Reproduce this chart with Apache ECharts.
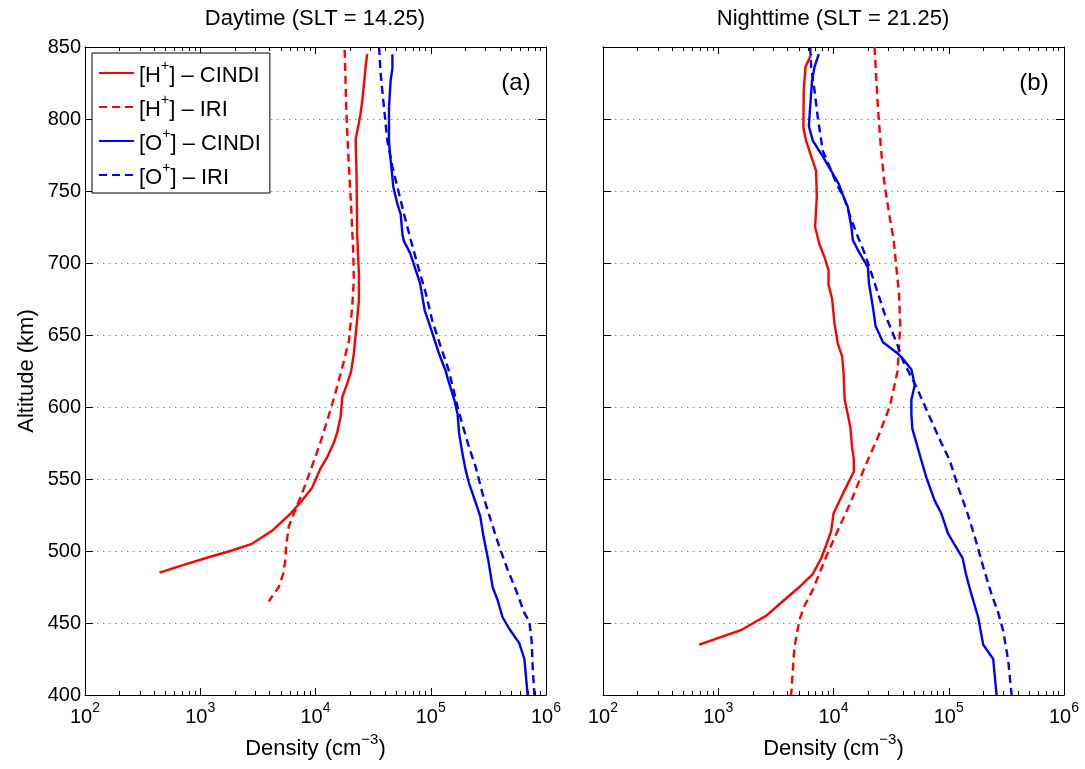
<!DOCTYPE html>
<html>
<head>
<meta charset="utf-8">
<script src="https://cdn.jsdelivr.net/npm/echarts@6/dist/echarts.min.js"></script>
<style>
  html, body { margin: 0; padding: 0; background: #fff; }
  #chart { width: 1085px; height: 769px; }
</style>
</head>
<body>
<div id="chart"></div>
<script>
// altitude (km) and density (cm^-3)

// (a) daytime
const dayHCindiAlt = [845, 836, 813, 801, 786, 762, 720, 693, 674, 656, 637, 625, 616, 607, 593, 582, 575, 565, 557, 544, 535, 526, 514, 505, 500, 496, 491, 485]
const dayHCindi = [28100, 27200, 25500, 24300, 22300, 22700, 23000, 23800, 23800, 22700, 21500, 20400, 18800, 17100, 16500, 15400, 14400, 12600, 11000, 9350, 7650, 6070, 4200, 2810, 1820, 1220, 766, 443]

const dayHIriAlt = [848, 801, 767, 739, 706, 688, 669, 646, 630, 614, 598, 575, 556, 540, 526, 517, 503, 494, 484, 475, 465]
const dayHIri = [17900, 18600, 19500, 20400, 21300, 21500, 20800, 19500, 17400, 15400, 13500, 11000, 9060, 7650, 6490, 5860, 5560, 5480, 5240, 4800, 3930]

const dayOCindiAlt = [845, 835, 827, 808, 785, 776, 767, 753, 741, 734, 720, 715, 707, 695, 686, 667, 658, 637, 625, 620, 605, 595, 582, 568, 556, 547, 535, 524, 510, 494, 475, 466, 454, 446, 436, 425, 413, 400]
const dayOCindi = [46500, 46500, 44900, 43400, 43400, 44300, 45500, 47300, 51300, 54800, 56800, 58600, 66100, 74100, 80700, 88700, 96800, 118000, 135000, 140000, 160000, 171000, 176000, 188000, 201000, 215000, 242000, 269000, 287000, 315000, 344000, 380000, 420000, 480000, 586000, 649000, 670000, 693000]

const dayOIriAlt = [850, 832, 808, 785, 767, 753, 734, 716, 695, 679, 660, 642, 625, 600, 588, 572, 558, 540, 521, 503, 487, 473, 457, 451, 438, 420, 400]
const dayOIri = [35600, 36700, 39300, 42000, 46500, 51300, 58600, 67000, 79300, 90600, 103000, 122000, 144000, 171000, 188000, 215000, 246000, 281000, 333000, 393000, 465000, 548000, 649000, 716000, 750000, 766000, 793000]

// (b) nighttime
const nightHCindiAlt = [845, 836, 820, 794, 785, 771, 764, 746, 725, 713, 704, 695, 685, 675, 658, 644, 635, 625, 619, 605, 595, 586, 572, 564, 555, 540, 526, 514, 504, 495, 484, 475, 463, 455, 445, 435]
const nightHCindi = [6400, 5710, 5520, 5480, 5780, 6610, 7060, 7160, 6930, 7550, 8360, 9060, 9060, 9730, 10200, 10900, 11900, 12200, 12300, 12500, 13300, 14000, 14500, 15000, 15000, 12100, 10000, 9550, 8630, 7820, 6610, 5060, 3390, 2600, 1570, 684]

const nightHIriAlt = [850, 808, 778, 755, 732, 716, 697, 679, 656, 642, 625, 600, 579, 558, 535, 517, 496, 473, 462, 452, 433, 400]
const nightHIri = [22700, 24300, 25900, 27700, 30700, 33300, 35100, 37000, 38000, 37000, 36000, 30700, 24300, 18600, 14300, 11300, 8630, 6610, 5600, 5060, 4580, 4290]

const nightOCindiAlt = [845, 836, 827, 808, 795, 785, 774, 764, 755, 744, 739, 725, 716, 707, 697, 686, 669, 656, 645, 637, 632, 626, 621, 615, 605, 595, 585, 575, 563, 551, 535, 526, 512, 504, 495, 484, 470, 454, 435, 425, 413, 400]
const nightOCindi = [7450, 6840, 6520, 6270, 6110, 6610, 8070, 9550, 11100, 12500, 13300, 14300, 14700, 16800, 19900, 20300, 22000, 23200, 26900, 36300, 41400, 47400, 49000, 50600, 47400, 47400, 48300, 52400, 57800, 64000, 75500, 86300, 98600, 113000, 132000, 141000, 157000, 180000, 199000, 243000, 251000, 260000]

const nightOIriAlt = [850, 836, 820, 801, 778, 767, 756, 744, 730, 718, 707, 693, 679, 665, 654, 642, 632, 614, 593, 575, 563, 544, 528, 510, 489, 470, 457, 445, 424, 400]
const nightOIri = [6270, 6400, 6840, 7310, 8070, 9230, 10500, 12500, 14300, 16300, 18600, 21300, 24300, 27700, 31700, 36300, 40100, 52400, 68400, 86300, 102000, 121000, 143000, 168000, 199000, 235000, 269000, 296000, 328000, 351000]

// axes
const altTicks = [400, 450, 500, 550, 600, 650, 700, 750, 800, 850]
const densityRange = [100, 1000000]
const minorTickValues = [
  200, 300, 400, 500, 600, 700, 800, 900,
  2000, 3000, 4000, 5000, 6000, 7000, 8000, 9000,
  20000, 30000, 40000, 50000, 60000, 70000, 80000, 90000,
  200000, 300000, 400000, 500000, 600000, 700000, 800000, 900000
]
const seriesNames = ['H+ CINDI', 'H+ IRI', 'O+ CINDI', 'O+ IRI']
const legendLabels = {
  'H+ CINDI': '{n|[H}{s|+}{n|] – CINDI}',
  'H+ IRI': '{n|[H}{s|+}{n|] – IRI}',
  'O+ CINDI': '{n|[O}{s|+}{n|] – CINDI}',
  'O+ IRI': '{n|[O}{s|+}{n|] – IRI}'
}

const FONT = 'Liberation Sans, Arial, Helvetica, sans-serif'
const RED = '#ff0000'
const BLUE = '#0000ff'

const supRich = (size, supSize) => ({
  n: { fontSize: size, fontFamily: FONT, color: '#000', lineHeight: size + 6, verticalAlign: 'bottom' },
  s: { fontSize: supSize, fontFamily: FONT, color: '#000', lineHeight: supSize, verticalAlign: 'top' }
})

const chart = echarts.init(document.getElementById('chart'))

const pairs = (den, alt) => den.map((d, i) => [d, alt[i]])

const line = (name, color, dashed, den, alt, xi, yi) => ({
  name: name,
  type: 'line',
  xAxisIndex: xi,
  yAxisIndex: yi,
  data: pairs(den, alt),
  symbol: 'none',
  showSymbol: false,
  animation: false,
  lineStyle: { color: color, width: 2.4, type: dashed ? [8, 5] : 'solid' },
  itemStyle: { color: color }
})

// one panel: major log axes top/bottom, minor tick axes top/bottom
const xAxesFor = (grid, withName) => [
  {
    gridIndex: grid, type: 'log', logBase: 10, min: densityRange[0], max: densityRange[1],
    position: 'bottom',
    axisLine: { lineStyle: { color: '#000', width: 1 } },
    axisTick: { inside: true, length: 7, lineStyle: { color: '#000' } },
    splitLine: { show: false },
    axisLabel: {
      margin: 6,
      formatter: v => '{n|10}{s|' + Math.round(Math.log10(v)) + '}',
      rich: supRich(20, 14)
    },
    name: withName ? '{n|Density (cm}{s|−3}{n|)}' : '',
    nameLocation: 'middle',
    nameGap: 36,
    nameTextStyle: { rich: supRich(22, 15) }
  },
  {
    gridIndex: grid, type: 'log', logBase: 10, min: densityRange[0], max: densityRange[1],
    position: 'top',
    axisLine: { lineStyle: { color: '#000', width: 1 } },
    axisTick: { inside: true, length: 7, lineStyle: { color: '#000' } },
    splitLine: { show: false },
    axisLabel: { show: false }
  },
  {
    gridIndex: grid, type: 'value', min: 2, max: 6, position: 'bottom',
    axisLine: { show: false },
    axisTick: { inside: true, length: 4, lineStyle: { color: '#000' }, customValues: minorTickValues.map(Math.log10) },
    axisLabel: { show: false },
    splitLine: { show: false }
  },
  {
    gridIndex: grid, type: 'value', min: 2, max: 6, position: 'top',
    axisLine: { show: false },
    axisTick: { inside: true, length: 4, lineStyle: { color: '#000' }, customValues: minorTickValues.map(Math.log10) },
    axisLabel: { show: false },
    splitLine: { show: false }
  }
]

const yAxesFor = (grid, withLabels) => [
  {
    gridIndex: grid, type: 'value', min: altTicks[0], max: altTicks[altTicks.length - 1], interval: 50,
    position: 'left',
    axisLine: { lineStyle: { color: '#000', width: 1 } },
    axisTick: { inside: true, length: 8, lineStyle: { color: '#000' } },
    axisLabel: { show: withLabels, margin: 4, fontSize: 20, fontFamily: FONT, color: '#000' },
    splitLine: { show: true, lineStyle: { type: [1.5, 4.5], color: '#8a8a8a', width: 1 } },
    name: withLabels ? 'Altitude (km)' : '',
    nameLocation: 'middle',
    nameGap: 47,
    nameTextStyle: { fontSize: 22, fontFamily: FONT, color: '#000' }
  },
  {
    gridIndex: grid, type: 'value', min: altTicks[0], max: altTicks[altTicks.length - 1], interval: 50,
    position: 'right',
    axisLine: { lineStyle: { color: '#000', width: 1 } },
    axisTick: { inside: true, length: 8, lineStyle: { color: '#000' } },
    axisLabel: { show: false },
    splitLine: { show: false }
  }
]

const option = {
  backgroundColor: '#fff',
  animation: false,
  title: [
    { text: 'Daytime (SLT = 14.25)', left: 315, top: 8, textAlign: 'center', padding: 0,
      textStyle: { fontSize: 22, fontWeight: 'normal', fontFamily: FONT, color: '#000' } },
    { text: 'Nighttime (SLT = 21.25)', left: 833, top: 8, textAlign: 'center', padding: 0,
      textStyle: { fontSize: 22, fontWeight: 'normal', fontFamily: FONT, color: '#000' } },
    { text: '(a)', left: 516, top: 71, textAlign: 'center', padding: 0,
      textStyle: { fontSize: 24, fontWeight: 'normal', fontFamily: FONT, color: '#000' } },
    { text: '(b)', left: 1034, top: 71, textAlign: 'center', padding: 0,
      textStyle: { fontSize: 24, fontWeight: 'normal', fontFamily: FONT, color: '#000' } }
  ],
  grid: [
    { left: 85, top: 47, width: 461, height: 648 },
    { left: 603, top: 47, width: 461, height: 648 }
  ],
  legend: {
    data: seriesNames,
    orient: 'vertical',
    left: 92,
    top: 53,
    padding: [6, 9, 4, 6],
    itemGap: 6,
    itemWidth: 35,
    itemHeight: 14,
    backgroundColor: '#fff',
    borderColor: '#000',
    borderWidth: 1,
    borderRadius: 0,
    itemStyle: { color: 'rgba(0,0,0,0)', borderWidth: 0, opacity: 0 },
    formatter: name => legendLabels[name],
    textStyle: { rich: supRich(22, 14) }
  },
  xAxis: [...xAxesFor(0, true), ...xAxesFor(1, true)],
  yAxis: [...yAxesFor(0, true), ...yAxesFor(1, false)],
  series: [
    line(seriesNames[0], RED, false, dayHCindi, dayHCindiAlt, 0, 0),
    line(seriesNames[1], RED, true, dayHIri, dayHIriAlt, 0, 0),
    line(seriesNames[2], BLUE, false, dayOCindi, dayOCindiAlt, 0, 0),
    line(seriesNames[3], BLUE, true, dayOIri, dayOIriAlt, 0, 0),
    line(seriesNames[0], RED, false, nightHCindi, nightHCindiAlt, 4, 2),
    line(seriesNames[1], RED, true, nightHIri, nightHIriAlt, 4, 2),
    line(seriesNames[2], BLUE, false, nightOCindi, nightOCindiAlt, 4, 2),
    line(seriesNames[3], BLUE, true, nightOIri, nightOIriAlt, 4, 2)
  ]
}

chart.setOption(option)
</script>
</body>
</html>
